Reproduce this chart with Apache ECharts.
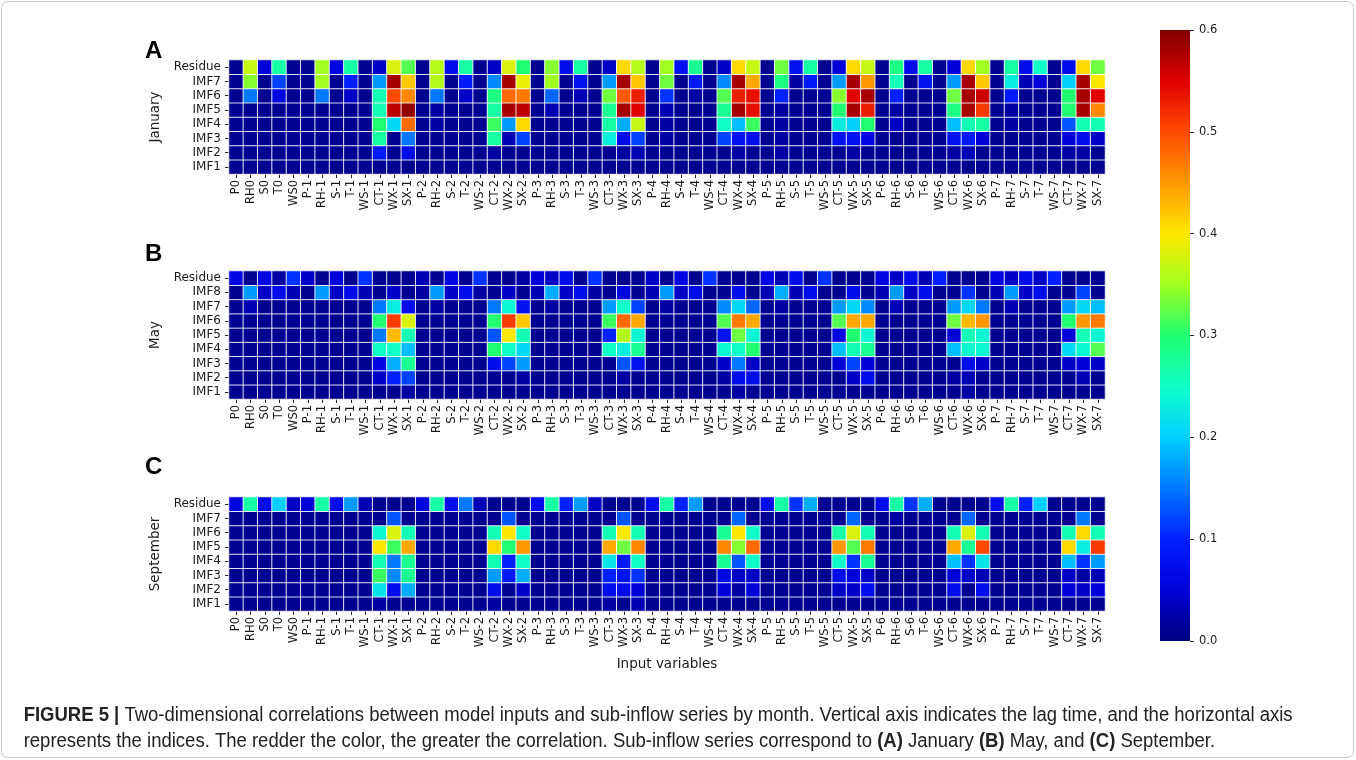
<!DOCTYPE html>
<html><head><meta charset="utf-8">
<script src="https://cdn.jsdelivr.net/npm/echarts/dist/echarts.min.js"></script>
<style>html,body{margin:0;padding:0;background:#fff}#c{width:1356px;height:760px}</style>
</head><body><div id="c"></div>
<script>
const xLabels = ['P0','RH0','S0','T0','WS0',
 'P-1','RH-1','S-1','T-1','WS-1','CT-1','WX-1','SX-1',
 'P-2','RH-2','S-2','T-2','WS-2','CT-2','WX-2','SX-2',
 'P-3','RH-3','S-3','T-3','WS-3','CT-3','WX-3','SX-3',
 'P-4','RH-4','S-4','T-4','WS-4','CT-4','WX-4','SX-4',
 'P-5','RH-5','S-5','T-5','WS-5','CT-5','WX-5','SX-5',
 'P-6','RH-6','S-6','T-6','WS-6','CT-6','WX-6','SX-6',
 'P-7','RH-7','S-7','T-7','WS-7','CT-7','WX-7','SX-7'];
const janRowLabels = ['IMF1','IMF2','IMF3','IMF4','IMF5','IMF6','IMF7','Residue'];
const mayRowLabels = ['IMF1','IMF2','IMF3','IMF4','IMF5','IMF6','IMF7','IMF8','Residue'];
const sepRowLabels = ['IMF1','IMF2','IMF3','IMF4','IMF5','IMF6','IMF7','Residue'];
const cbTicks = [0,0.1,0.2,0.3,0.4,0.5,0.6];

// ---- January ----
const janResidue = [0.01,0.37,0.05,0.27,0.01,
 0.01,0.35,0.06,0.27,0.01,0.04,0.38,0.32,
 0.01,0.36,0.07,0.27,0.01,0.04,0.38,0.30,
 0.01,0.34,0.07,0.27,0.01,0.04,0.41,0.36,
 0.01,0.35,0.08,0.28,0.01,0.04,0.41,0.37,
 0.01,0.33,0.08,0.27,0.01,0.05,0.41,0.37,
 0.01,0.29,0.07,0.27,0.01,0.05,0.41,0.35,
 0.01,0.27,0.07,0.25,0.01,0.07,0.41,0.33];
const janIMF7 = [0.01,0.34,0.01,0.12,0.01,
 0.01,0.35,0.01,0.10,0.01,0.17,0.58,0.42,
 0.01,0.36,0.01,0.09,0.01,0.16,0.58,0.39,
 0.01,0.35,0.01,0.08,0.01,0.17,0.58,0.42,
 0.01,0.33,0.01,0.09,0.01,0.16,0.58,0.44,
 0.01,0.29,0.02,0.09,0.01,0.17,0.58,0.45,
 0.01,0.26,0.01,0.08,0.01,0.17,0.58,0.42,
 0.01,0.23,0.03,0.05,0.01,0.20,0.58,0.40];
const janIMF6 = [0.01,0.15,0.01,0.06,0.01,
 0.01,0.15,0.01,0.04,0.01,0.26,0.50,0.46,
 0.01,0.15,0.01,0.04,0.01,0.29,0.48,0.47,
 0.01,0.14,0.01,0.03,0.01,0.33,0.49,0.53,
 0.01,0.11,0.01,0.02,0.01,0.32,0.53,0.54,
 0.01,0.10,0.01,0.01,0.01,0.34,0.55,0.58,
 0.01,0.10,0.01,0.01,0.01,0.33,0.58,0.56,
 0.01,0.09,0.01,0.01,0.01,0.30,0.58,0.55];
const janIMF5 = [0.01,0.01,0.01,0.01,0.01,
 0.01,0.01,0.01,0.01,0.01,0.26,0.57,0.59,
 0.01,0.02,0.01,0.01,0.01,0.27,0.58,0.57,
 0.01,0.03,0.01,0.01,0.01,0.28,0.58,0.55,
 0.01,0.03,0.01,0.01,0.01,0.28,0.58,0.54,
 0.01,0.02,0.01,0.01,0.01,0.30,0.58,0.53,
 0.01,0.02,0.01,0.01,0.01,0.29,0.58,0.51,
 0.01,0.02,0.01,0.01,0.01,0.30,0.58,0.46];
const janIMF4 = [0.01,0.01,0.01,0.01,0.01,
 0.01,0.01,0.01,0.01,0.01,0.30,0.21,0.48,
 0.01,0.02,0.01,0.01,0.01,0.31,0.17,0.41,
 0.01,0.01,0.01,0.01,0.01,0.27,0.18,0.37,
 0.01,0.02,0.01,0.01,0.01,0.25,0.19,0.31,
 0.01,0.02,0.01,0.01,0.01,0.23,0.20,0.30,
 0.01,0.04,0.01,0.01,0.01,0.19,0.26,0.27,
 0.01,0.02,0.01,0.01,0.01,0.13,0.26,0.26];
const janIMF3 = [0.01,0.01,0.01,0.01,0.01,
 0.01,0.01,0.01,0.01,0.01,0.27,0.01,0.15,
 0.01,0.01,0.01,0.01,0.01,0.27,0.03,0.12,
 0.01,0.01,0.01,0.01,0.01,0.23,0.07,0.12,
 0.01,0.02,0.01,0.01,0.01,0.12,0.08,0.07,
 0.01,0.02,0.01,0.01,0.01,0.08,0.08,0.06,
 0.01,0.01,0.01,0.01,0.01,0.08,0.09,0.05,
 0.01,0.01,0.01,0.01,0.01,0.05,0.07,0.04];
const janIMF2 = [0.01,0.01,0.01,0.01,0.01,
 0.01,0.01,0.01,0.01,0.01,0.09,0.01,0.07,
 0.01,0.01,0.01,0.01,0.01,0.02,0.01,0.01,
 0.01,0.01,0.01,0.01,0.01,0.01,0.02,0.03,
 0.01,0.01,0.01,0.01,0.01,0.01,0.02,0.01,
 0.01,0.02,0.01,0.01,0.01,0.01,0.02,0.01,
 0.01,0.01,0.01,0.01,0.01,0.02,0.03,0.01,
 0.01,0.01,0.01,0.01,0.01,0.02,0.02,0.01];
const janIMF1 = [0.01,0.01,0.01,0.01,0.01,
 0.01,0.01,0.01,0.01,0.01,0.01,0.01,0.01,
 0.01,0.01,0.01,0.01,0.01,0.01,0.01,0.01,
 0.01,0.01,0.01,0.01,0.01,0.01,0.01,0.01,
 0.01,0.01,0.01,0.01,0.01,0.01,0.01,0.01,
 0.01,0.01,0.01,0.01,0.01,0.01,0.01,0.01,
 0.01,0.01,0.01,0.01,0.01,0.01,0.01,0.01,
 0.01,0.01,0.01,0.01,0.01,0.01,0.01,0.01];

// ---- May ----
const mayResidue = [0.06,0.01,0.06,0.02,0.11,
 0.04,0.01,0.05,0.01,0.11,0.01,0.01,0.01,
 0.03,0.01,0.06,0.01,0.11,0.01,0.01,0.02,
 0.05,0.04,0.07,0.01,0.11,0.01,0.01,0.01,
 0.04,0.01,0.06,0.01,0.11,0.01,0.01,0.01,
 0.06,0.03,0.07,0.01,0.11,0.01,0.01,0.01,
 0.06,0.04,0.07,0.03,0.10,0.01,0.01,0.01,
 0.06,0.04,0.07,0.04,0.10,0.01,0.01,0.01];
const mayIMF8 = [0.01,0.17,0.04,0.07,0.03,
 0.01,0.17,0.04,0.07,0.03,0.01,0.04,0.01,
 0.02,0.17,0.04,0.07,0.02,0.01,0.04,0.01,
 0.03,0.18,0.04,0.07,0.02,0.01,0.06,0.01,
 0.03,0.17,0.04,0.07,0.01,0.01,0.07,0.01,
 0.03,0.18,0.03,0.07,0.01,0.01,0.07,0.01,
 0.03,0.17,0.04,0.07,0.01,0.01,0.11,0.01,
 0.03,0.17,0.04,0.07,0.01,0.01,0.12,0.01];
const mayIMF7 = [0.01,0.03,0.01,0.01,0.01,
 0.01,0.01,0.01,0.01,0.01,0.15,0.23,0.07,
 0.01,0.02,0.01,0.01,0.01,0.15,0.24,0.08,
 0.01,0.02,0.01,0.01,0.01,0.17,0.25,0.12,
 0.01,0.02,0.01,0.01,0.01,0.16,0.21,0.14,
 0.01,0.02,0.01,0.01,0.01,0.17,0.21,0.16,
 0.01,0.03,0.01,0.01,0.01,0.17,0.21,0.15,
 0.01,0.03,0.01,0.01,0.01,0.17,0.21,0.19];
const mayIMF6 = [0.01,0.01,0.01,0.01,0.01,
 0.01,0.01,0.01,0.01,0.01,0.30,0.51,0.38,
 0.01,0.01,0.01,0.01,0.01,0.30,0.51,0.42,
 0.01,0.01,0.01,0.01,0.01,0.31,0.48,0.44,
 0.01,0.01,0.01,0.01,0.01,0.32,0.47,0.44,
 0.01,0.01,0.01,0.01,0.01,0.32,0.44,0.44,
 0.01,0.01,0.01,0.01,0.01,0.33,0.43,0.45,
 0.01,0.01,0.01,0.01,0.01,0.30,0.45,0.47];
const mayIMF5 = [0.01,0.01,0.01,0.01,0.01,
 0.01,0.01,0.01,0.01,0.01,0.15,0.43,0.26,
 0.01,0.01,0.01,0.01,0.01,0.13,0.40,0.26,
 0.01,0.01,0.01,0.01,0.01,0.10,0.36,0.24,
 0.01,0.01,0.01,0.01,0.01,0.08,0.33,0.24,
 0.01,0.01,0.01,0.01,0.01,0.06,0.30,0.24,
 0.01,0.01,0.01,0.01,0.01,0.05,0.26,0.24,
 0.01,0.01,0.01,0.01,0.01,0.05,0.26,0.24];
const mayIMF4 = [0.01,0.01,0.01,0.01,0.01,
 0.01,0.01,0.01,0.01,0.01,0.25,0.25,0.19,
 0.01,0.01,0.01,0.01,0.01,0.30,0.25,0.21,
 0.01,0.01,0.01,0.01,0.01,0.25,0.23,0.28,
 0.01,0.01,0.01,0.01,0.01,0.24,0.25,0.30,
 0.01,0.01,0.01,0.01,0.01,0.19,0.26,0.28,
 0.01,0.01,0.01,0.01,0.01,0.19,0.24,0.24,
 0.01,0.01,0.01,0.01,0.01,0.21,0.24,0.32];
const mayIMF3 = [0.01,0.01,0.01,0.01,0.01,
 0.01,0.01,0.01,0.01,0.01,0.06,0.18,0.28,
 0.01,0.01,0.01,0.01,0.01,0.07,0.12,0.17,
 0.01,0.01,0.01,0.01,0.01,0.01,0.13,0.08,
 0.01,0.01,0.01,0.01,0.01,0.04,0.15,0.04,
 0.01,0.01,0.01,0.01,0.01,0.05,0.12,0.05,
 0.01,0.01,0.01,0.01,0.01,0.01,0.07,0.04,
 0.01,0.01,0.01,0.01,0.01,0.04,0.05,0.04];
const mayIMF2 = [0.01,0.01,0.01,0.01,0.01,
 0.01,0.01,0.01,0.01,0.01,0.04,0.10,0.12,
 0.01,0.01,0.01,0.01,0.01,0.01,0.01,0.02,
 0.01,0.01,0.01,0.01,0.01,0.01,0.02,0.01,
 0.01,0.01,0.01,0.01,0.01,0.02,0.07,0.07,
 0.01,0.01,0.01,0.01,0.01,0.01,0.04,0.07,
 0.01,0.01,0.01,0.01,0.01,0.02,0.03,0.01,
 0.01,0.01,0.01,0.01,0.01,0.01,0.03,0.01];
const mayIMF1 = [0.01,0.01,0.01,0.01,0.01,
 0.01,0.01,0.01,0.01,0.01,0.01,0.01,0.02,
 0.01,0.01,0.01,0.01,0.01,0.01,0.01,0.01,
 0.01,0.01,0.01,0.01,0.01,0.01,0.01,0.01,
 0.01,0.01,0.01,0.01,0.01,0.01,0.02,0.01,
 0.01,0.01,0.01,0.01,0.01,0.01,0.01,0.01,
 0.01,0.01,0.01,0.01,0.01,0.01,0.02,0.01,
 0.01,0.01,0.01,0.01,0.01,0.01,0.01,0.01];

// ---- September ----
const sepResidue = [0.06,0.27,0.07,0.20,0.04,
 0.05,0.27,0.07,0.17,0.03,0.01,0.01,0.01,
 0.06,0.27,0.07,0.15,0.03,0.01,0.01,0.01,
 0.07,0.27,0.10,0.17,0.04,0.01,0.01,0.01,
 0.07,0.27,0.10,0.17,0.01,0.01,0.01,0.01,
 0.07,0.27,0.11,0.18,0.01,0.01,0.01,0.01,
 0.07,0.27,0.11,0.18,0.01,0.01,0.01,0.01,
 0.07,0.27,0.10,0.20,0.01,0.01,0.01,0.01];
const sepIMF7 = [0.01,0.01,0.01,0.01,0.01,
 0.01,0.01,0.01,0.01,0.01,0.01,0.13,0.01,
 0.01,0.01,0.01,0.01,0.01,0.01,0.13,0.01,
 0.01,0.01,0.01,0.01,0.01,0.01,0.13,0.01,
 0.01,0.01,0.01,0.01,0.01,0.01,0.14,0.01,
 0.01,0.01,0.01,0.01,0.01,0.01,0.14,0.01,
 0.01,0.02,0.01,0.01,0.01,0.01,0.14,0.01,
 0.01,0.01,0.01,0.01,0.01,0.01,0.15,0.01];
const sepIMF6 = [0.01,0.01,0.01,0.01,0.01,
 0.01,0.01,0.01,0.01,0.01,0.24,0.38,0.26,
 0.01,0.01,0.01,0.01,0.01,0.26,0.40,0.25,
 0.01,0.01,0.01,0.01,0.01,0.26,0.40,0.26,
 0.01,0.01,0.01,0.01,0.01,0.28,0.40,0.25,
 0.01,0.01,0.01,0.01,0.01,0.27,0.38,0.26,
 0.01,0.01,0.01,0.01,0.01,0.26,0.38,0.26,
 0.01,0.01,0.01,0.01,0.01,0.26,0.41,0.26];
const sepIMF5 = [0.01,0.01,0.01,0.01,0.01,
 0.01,0.01,0.01,0.01,0.01,0.40,0.31,0.44,
 0.01,0.01,0.01,0.01,0.01,0.41,0.30,0.45,
 0.01,0.01,0.01,0.01,0.01,0.44,0.33,0.46,
 0.01,0.01,0.01,0.01,0.01,0.46,0.34,0.48,
 0.01,0.01,0.01,0.01,0.01,0.45,0.32,0.47,
 0.01,0.01,0.01,0.01,0.01,0.44,0.28,0.50,
 0.01,0.01,0.01,0.01,0.01,0.41,0.23,0.51];
const sepIMF4 = [0.01,0.01,0.01,0.01,0.01,
 0.01,0.01,0.01,0.01,0.01,0.26,0.15,0.28,
 0.01,0.01,0.01,0.01,0.01,0.26,0.10,0.25,
 0.01,0.01,0.01,0.01,0.01,0.22,0.09,0.25,
 0.01,0.01,0.01,0.01,0.01,0.28,0.13,0.25,
 0.01,0.01,0.01,0.01,0.01,0.25,0.11,0.28,
 0.01,0.01,0.01,0.01,0.01,0.19,0.11,0.22,
 0.01,0.01,0.01,0.01,0.01,0.19,0.11,0.17];
const sepIMF3 = [0.01,0.01,0.01,0.01,0.01,
 0.01,0.01,0.01,0.01,0.01,0.31,0.16,0.28,
 0.01,0.01,0.01,0.01,0.01,0.17,0.09,0.18,
 0.01,0.01,0.01,0.01,0.01,0.10,0.08,0.11,
 0.01,0.01,0.01,0.01,0.01,0.06,0.04,0.04,
 0.01,0.01,0.01,0.01,0.01,0.07,0.05,0.04,
 0.01,0.01,0.01,0.01,0.01,0.05,0.04,0.03,
 0.01,0.01,0.01,0.01,0.01,0.04,0.02,0.03];
const sepIMF2 = [0.01,0.01,0.01,0.01,0.01,
 0.01,0.01,0.01,0.01,0.01,0.22,0.07,0.18,
 0.01,0.01,0.01,0.01,0.01,0.07,0.01,0.04,
 0.01,0.01,0.01,0.01,0.01,0.07,0.07,0.05,
 0.01,0.01,0.01,0.01,0.01,0.05,0.02,0.05,
 0.01,0.01,0.01,0.01,0.01,0.04,0.04,0.07,
 0.01,0.01,0.01,0.01,0.01,0.07,0.01,0.07,
 0.01,0.01,0.01,0.01,0.01,0.05,0.04,0.05];
const sepIMF1 = [0.01,0.01,0.01,0.01,0.01,
 0.01,0.01,0.01,0.01,0.01,0.02,0.01,0.01,
 0.01,0.01,0.01,0.01,0.01,0.02,0.01,0.01,
 0.01,0.01,0.01,0.01,0.01,0.02,0.01,0.03,
 0.01,0.01,0.01,0.01,0.01,0.01,0.01,0.01,
 0.01,0.01,0.01,0.01,0.01,0.01,0.01,0.01,
 0.01,0.01,0.01,0.01,0.01,0.01,0.01,0.01,
 0.01,0.01,0.01,0.01,0.01,0.01,0.01,0.01];

const janRows = [janIMF1,janIMF2,janIMF3,janIMF4,janIMF5,janIMF6,janIMF7,janResidue];
const mayRows = [mayIMF1,mayIMF2,mayIMF3,mayIMF4,mayIMF5,mayIMF6,mayIMF7,mayIMF8,mayResidue];
const sepRows = [sepIMF1,sepIMF2,sepIMF3,sepIMF4,sepIMF5,sepIMF6,sepIMF7,sepResidue];

const jet = ['#00007f','#0000d8','#0020ff','#0078ff','#00d0ff','#10ffc8','#20ff70',
             '#a0ff20','#ffe800','#ff9800','#ff4a00','#e00000','#800000'];

function toCells(rows){
  const out=[];
  rows.forEach((row,r)=>row.forEach((v,c)=>out.push([c,r,v])));
  return out;
}

const chart = echarts.init(document.getElementById('c'), null, {renderer:'canvas'});
const TICK_FONT = 'DejaVu Sans';
const panels = [
  {rows:janRows, labels:janRowLabels, name:'January', top:60, height:114},
  {rows:mayRows, labels:mayRowLabels, name:'May', top:271, height:128},
  {rows:sepRows, labels:sepRowLabels, name:'September', top:497, height:114}
];
const grids=[], xAxes=[], yAxes=[], series=[];
panels.forEach((p,i)=>{
  grids.push({left:229, top:p.top, width:876, height:p.height});
  xAxes.push({type:'category', gridIndex:i, data:xLabels,
    axisLine:{show:false}, splitLine:{show:false}, splitArea:{show:false},
    axisTick:{show:true, alignWithLabel:true, interval:0, length:4, lineStyle:{color:'#222'}},
    axisLabel:{rotate:90, interval:0, fontSize:11.5, color:'#1a1a1a', fontFamily:TICK_FONT, margin:6},
    name: i===2 ? 'Input variables' : '', nameLocation:'middle', nameGap:46,
    nameTextStyle:{fontSize:13.5, color:'#1a1a1a', fontFamily:TICK_FONT}
  });
  yAxes.push({type:'category', gridIndex:i, data:p.labels,
    axisLine:{show:false}, splitLine:{show:false}, splitArea:{show:false},
    axisTick:{show:true, alignWithLabel:true, interval:0, length:4, lineStyle:{color:'#222'}},
    axisLabel:{interval:0, fontSize:12, color:'#1a1a1a', fontFamily:TICK_FONT, margin:8},
    name:p.name, nameLocation:'middle', nameRotate:90, nameGap:62,
    nameTextStyle:{fontSize:13.5, color:'#1a1a1a', fontFamily:TICK_FONT}
  });
  series.push({type:'heatmap', xAxisIndex:i, yAxisIndex:i, data:toCells(p.rows),
    itemStyle:{borderColor:'rgba(255,255,255,0.85)', borderWidth:1},
    emphasis:{disabled:true}, progressive:0, animation:false});
});
// colorbar tick axis: sits on the right edge of the colour bar
grids.push({left:1190, top:30, width:30, height:611});
xAxes.push({type:'value', gridIndex:3, show:false, min:0, max:1});
yAxes.push({type:'value', gridIndex:3, min:cbTicks[0], max:cbTicks[cbTicks.length-1], interval:0.1,
  position:'left', axisLine:{show:false}, splitLine:{show:false},
  axisTick:{show:true, inside:true, length:4, lineStyle:{color:'#222'}},
  axisLabel:{inside:true, fontSize:11.5, color:'#1a1a1a', fontFamily:TICK_FONT, margin:9, formatter:v=>v.toFixed(1)}});

const stops = jet.map((c,k)=>({offset:k/(jet.length-1), color:c}));
const captionFont = "'Liberation Sans', Arial, sans-serif";
const capRich = {b:{fontWeight:'bold', fill:'#222', fontFamily:captionFont, fontSize:20}};
const option = {
  animation:false,
  backgroundColor:'#ffffff',
  visualMap:{type:'continuous', min:0, max:0.6, show:false, seriesIndex:[0,1,2], inRange:{color:jet}},
  grid:grids, xAxis:xAxes, yAxis:yAxes, series:series,
  graphic:[
    {type:'rect', z:-10, shape:{x:1.5,y:1.5,width:1352,height:756,r:6}, style:{fill:'none', stroke:'#c8c8c8', lineWidth:1}},
    {type:'rect', z:-5, shape:{x:1160,y:30,width:30,height:611},
      style:{fill:new echarts.graphic.LinearGradient(0,1,0,0,stops)}},
    {type:'text', x:145, y:39, style:{text:'A', font:"bold 24px 'Liberation Sans', Arial, sans-serif", fill:'#000'}},
    {type:'text', x:145, y:242, style:{text:'B', font:"bold 24px 'Liberation Sans', Arial, sans-serif", fill:'#000'}},
    {type:'text', x:145, y:455, style:{text:'C', font:"bold 24px 'Liberation Sans', Arial, sans-serif", fill:'#000'}},
    {type:'text', x:22, y:705, scaleX:0.925, originX:22, style:{
      text:'{b|FIGURE 5 |} Two-dimensional correlations between model inputs and sub-inflow series by month. Vertical axis indicates the lag time, and the horizontal axis',
      fontFamily:captionFont, fontSize:20, fill:'#222', rich:capRich}},
    {type:'text', x:22, y:731, scaleX:0.925, originX:22, style:{
      text:'represents the indices. The redder the color, the greater the correlation. Sub-inflow series correspond to {b|(A)} January {b|(B)} May, and {b|(C)} September.',
      fontFamily:captionFont, fontSize:20, fill:'#222', rich:capRich}}
  ]
};
chart.setOption(option);
</script></body></html>
